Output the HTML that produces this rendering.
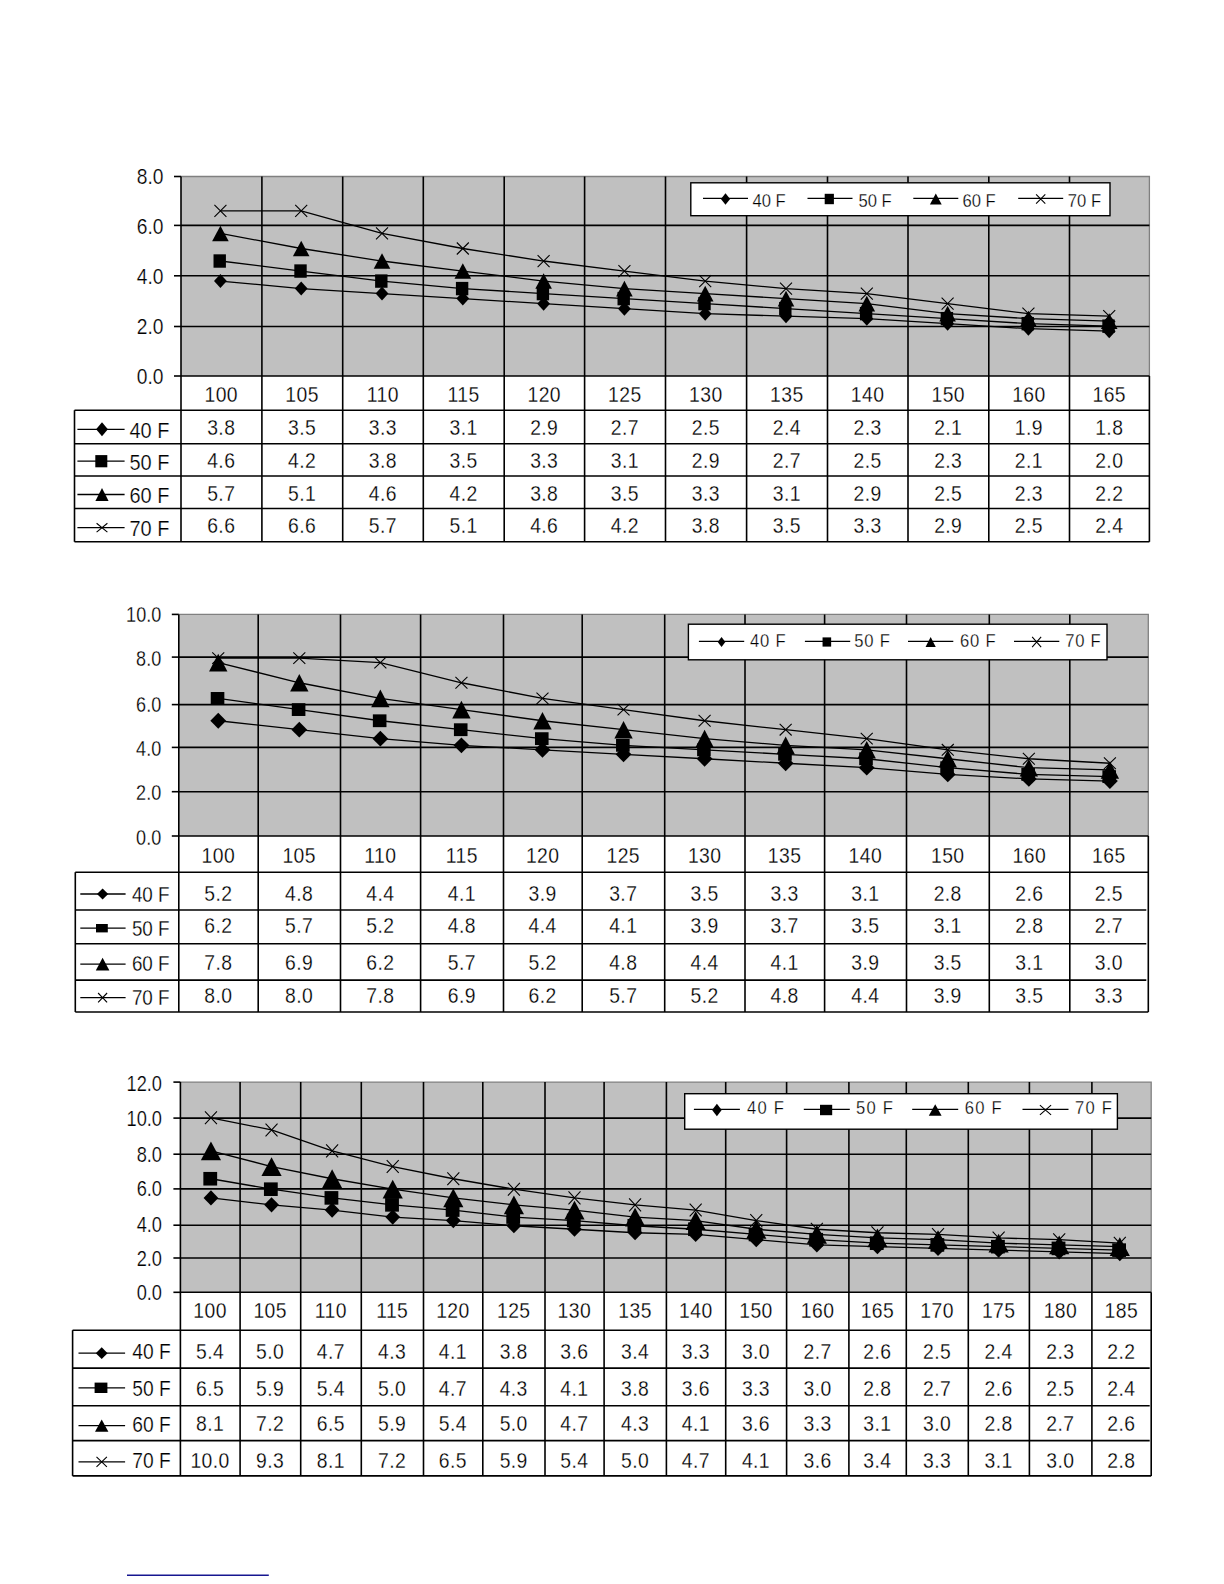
<!DOCTYPE html>
<html><head><meta charset="utf-8"><title>Charts</title>
<style>
html,body{margin:0;padding:0;background:#fff;}
svg{display:block;}
text{font-family:"Liberation Sans", sans-serif;fill:#000;stroke:#fff;stroke-width:0.25px;}
</style></head>
<body>
<svg width="1224" height="1584" viewBox="0 0 1224 1584">
<rect width="1224" height="1584" fill="#fff"/>
<rect x="181" y="176.5" width="968.4" height="199.5" fill="#c0c0c0"/>
<path d="M181 176.5H1149.4V376" stroke="#808080" stroke-width="1.3" fill="none"/>
<path d="M181 326.5H1149.4" stroke="#000" stroke-width="1.6"/>
<path d="M181 275.8H1149.4" stroke="#000" stroke-width="1.6"/>
<path d="M181 225.4H1149.4" stroke="#000" stroke-width="1.6"/>
<path d="M174 376H181" stroke="#000" stroke-width="1.6"/>
<text transform="translate(163.5 384.15) scale(0.9 1)" font-size="21.4" text-anchor="end">0.0</text>
<path d="M174 326.5H181" stroke="#000" stroke-width="1.6"/>
<text transform="translate(163.5 334.34) scale(0.9 1)" font-size="21.4" text-anchor="end">2.0</text>
<path d="M174 275.8H181" stroke="#000" stroke-width="1.6"/>
<text transform="translate(163.5 283.93) scale(0.9 1)" font-size="21.4" text-anchor="end">4.0</text>
<path d="M174 225.4H181" stroke="#000" stroke-width="1.6"/>
<text transform="translate(163.5 233.67) scale(0.9 1)" font-size="21.4" text-anchor="end">6.0</text>
<path d="M174 176.5H181" stroke="#000" stroke-width="1.6"/>
<text transform="translate(163.5 184.16) scale(0.9 1)" font-size="21.4" text-anchor="end">8.0</text>
<path d="M181 376H1149.4" stroke="#000" stroke-width="1.6"/>
<path d="M74.5 410.2H1149.4" stroke="#000" stroke-width="1.6"/>
<path d="M74.5 443.8H1149.4" stroke="#000" stroke-width="1.6"/>
<path d="M74.5 476H1149.4" stroke="#000" stroke-width="1.6"/>
<path d="M74.5 508.5H1149.4" stroke="#000" stroke-width="1.6"/>
<path d="M74.5 541.8H1149.4" stroke="#000" stroke-width="1.6"/>
<path d="M181 176.5V541.8" stroke="#000" stroke-width="1.6"/>
<path d="M261.9 176.5V541.8" stroke="#000" stroke-width="1.6"/>
<path d="M342.7 176.5V541.8" stroke="#000" stroke-width="1.6"/>
<path d="M423.3 176.5V541.8" stroke="#000" stroke-width="1.6"/>
<path d="M504.2 176.5V541.8" stroke="#000" stroke-width="1.6"/>
<path d="M584.6 176.5V541.8" stroke="#000" stroke-width="1.6"/>
<path d="M665.5 176.5V541.8" stroke="#000" stroke-width="1.6"/>
<path d="M746.6 176.5V541.8" stroke="#000" stroke-width="1.6"/>
<path d="M827.5 176.5V541.8" stroke="#000" stroke-width="1.6"/>
<path d="M908 176.5V541.8" stroke="#000" stroke-width="1.6"/>
<path d="M988.8 176.5V541.8" stroke="#000" stroke-width="1.6"/>
<path d="M1069.5 176.5V541.8" stroke="#000" stroke-width="1.6"/>
<path d="M1149.4 376V541.8" stroke="#000" stroke-width="1.6"/>
<path d="M74.5 410.2V541.8" stroke="#000" stroke-width="1.6"/>
<text transform="translate(221.26 401.99) scale(0.86 1)" font-size="22.5" text-anchor="middle" letter-spacing="0.5">100</text>
<text transform="translate(302.11 401.99) scale(0.86 1)" font-size="22.5" text-anchor="middle" letter-spacing="0.5">105</text>
<text transform="translate(382.81 401.99) scale(0.86 1)" font-size="22.5" text-anchor="middle" letter-spacing="0.5">110</text>
<text transform="translate(463.56 401.99) scale(0.86 1)" font-size="22.5" text-anchor="middle" letter-spacing="0.5">115</text>
<text transform="translate(544.22 401.99) scale(0.86 1)" font-size="22.5" text-anchor="middle" letter-spacing="0.5">120</text>
<text transform="translate(624.87 401.99) scale(0.86 1)" font-size="22.5" text-anchor="middle" letter-spacing="0.5">125</text>
<text transform="translate(705.87 401.99) scale(0.86 1)" font-size="22.5" text-anchor="middle" letter-spacing="0.5">130</text>
<text transform="translate(786.87 401.99) scale(0.86 1)" font-size="22.5" text-anchor="middle" letter-spacing="0.5">135</text>
<text transform="translate(867.57 401.99) scale(0.86 1)" font-size="22.5" text-anchor="middle" letter-spacing="0.5">140</text>
<text transform="translate(948.22 401.99) scale(0.86 1)" font-size="22.5" text-anchor="middle" letter-spacing="0.5">150</text>
<text transform="translate(1028.96 401.99) scale(0.86 1)" font-size="22.5" text-anchor="middle" letter-spacing="0.5">160</text>
<text transform="translate(1109.26 401.99) scale(0.86 1)" font-size="22.5" text-anchor="middle" letter-spacing="0.5">165</text>
<text transform="translate(221.26 435.09) scale(0.86 1)" font-size="22.5" text-anchor="middle" letter-spacing="0.5">3.8</text>
<text transform="translate(302.11 435.09) scale(0.86 1)" font-size="22.5" text-anchor="middle" letter-spacing="0.5">3.5</text>
<text transform="translate(382.81 435.09) scale(0.86 1)" font-size="22.5" text-anchor="middle" letter-spacing="0.5">3.3</text>
<text transform="translate(463.56 435.09) scale(0.86 1)" font-size="22.5" text-anchor="middle" letter-spacing="0.5">3.1</text>
<text transform="translate(544.22 435.09) scale(0.86 1)" font-size="22.5" text-anchor="middle" letter-spacing="0.5">2.9</text>
<text transform="translate(624.87 435.09) scale(0.86 1)" font-size="22.5" text-anchor="middle" letter-spacing="0.5">2.7</text>
<text transform="translate(705.87 435.09) scale(0.86 1)" font-size="22.5" text-anchor="middle" letter-spacing="0.5">2.5</text>
<text transform="translate(786.87 435.09) scale(0.86 1)" font-size="22.5" text-anchor="middle" letter-spacing="0.5">2.4</text>
<text transform="translate(867.57 435.09) scale(0.86 1)" font-size="22.5" text-anchor="middle" letter-spacing="0.5">2.3</text>
<text transform="translate(948.22 435.09) scale(0.86 1)" font-size="22.5" text-anchor="middle" letter-spacing="0.5">2.1</text>
<text transform="translate(1028.96 435.09) scale(0.86 1)" font-size="22.5" text-anchor="middle" letter-spacing="0.5">1.9</text>
<text transform="translate(1109.26 435.09) scale(0.86 1)" font-size="22.5" text-anchor="middle" letter-spacing="0.5">1.8</text>
<path d="M77.4 429.3H124.6" stroke="#000" stroke-width="1.3"/>
<path d="M102 422.3L107.9 429.3L102 436.3L96.1 429.3Z" fill="#000"/>
<text transform="translate(129.5 437.63) scale(0.93 1)" font-size="21.5" text-anchor="start">40 F</text>
<text transform="translate(221.26 468.39) scale(0.86 1)" font-size="22.5" text-anchor="middle" letter-spacing="0.5">4.6</text>
<text transform="translate(302.11 468.39) scale(0.86 1)" font-size="22.5" text-anchor="middle" letter-spacing="0.5">4.2</text>
<text transform="translate(382.81 468.39) scale(0.86 1)" font-size="22.5" text-anchor="middle" letter-spacing="0.5">3.8</text>
<text transform="translate(463.56 468.39) scale(0.86 1)" font-size="22.5" text-anchor="middle" letter-spacing="0.5">3.5</text>
<text transform="translate(544.22 468.39) scale(0.86 1)" font-size="22.5" text-anchor="middle" letter-spacing="0.5">3.3</text>
<text transform="translate(624.87 468.39) scale(0.86 1)" font-size="22.5" text-anchor="middle" letter-spacing="0.5">3.1</text>
<text transform="translate(705.87 468.39) scale(0.86 1)" font-size="22.5" text-anchor="middle" letter-spacing="0.5">2.9</text>
<text transform="translate(786.87 468.39) scale(0.86 1)" font-size="22.5" text-anchor="middle" letter-spacing="0.5">2.7</text>
<text transform="translate(867.57 468.39) scale(0.86 1)" font-size="22.5" text-anchor="middle" letter-spacing="0.5">2.5</text>
<text transform="translate(948.22 468.39) scale(0.86 1)" font-size="22.5" text-anchor="middle" letter-spacing="0.5">2.3</text>
<text transform="translate(1028.96 468.39) scale(0.86 1)" font-size="22.5" text-anchor="middle" letter-spacing="0.5">2.1</text>
<text transform="translate(1109.26 468.39) scale(0.86 1)" font-size="22.5" text-anchor="middle" letter-spacing="0.5">2.0</text>
<path d="M77.4 461.2H124.6" stroke="#000" stroke-width="1.3"/>
<rect x="95.3" y="455.1" width="12" height="12.2" fill="#000"/>
<text transform="translate(129.5 469.53) scale(0.93 1)" font-size="21.5" text-anchor="start">50 F</text>
<text transform="translate(221.26 500.99) scale(0.86 1)" font-size="22.5" text-anchor="middle" letter-spacing="0.5">5.7</text>
<text transform="translate(302.11 500.99) scale(0.86 1)" font-size="22.5" text-anchor="middle" letter-spacing="0.5">5.1</text>
<text transform="translate(382.81 500.99) scale(0.86 1)" font-size="22.5" text-anchor="middle" letter-spacing="0.5">4.6</text>
<text transform="translate(463.56 500.99) scale(0.86 1)" font-size="22.5" text-anchor="middle" letter-spacing="0.5">4.2</text>
<text transform="translate(544.22 500.99) scale(0.86 1)" font-size="22.5" text-anchor="middle" letter-spacing="0.5">3.8</text>
<text transform="translate(624.87 500.99) scale(0.86 1)" font-size="22.5" text-anchor="middle" letter-spacing="0.5">3.5</text>
<text transform="translate(705.87 500.99) scale(0.86 1)" font-size="22.5" text-anchor="middle" letter-spacing="0.5">3.3</text>
<text transform="translate(786.87 500.99) scale(0.86 1)" font-size="22.5" text-anchor="middle" letter-spacing="0.5">3.1</text>
<text transform="translate(867.57 500.99) scale(0.86 1)" font-size="22.5" text-anchor="middle" letter-spacing="0.5">2.9</text>
<text transform="translate(948.22 500.99) scale(0.86 1)" font-size="22.5" text-anchor="middle" letter-spacing="0.5">2.5</text>
<text transform="translate(1028.96 500.99) scale(0.86 1)" font-size="22.5" text-anchor="middle" letter-spacing="0.5">2.3</text>
<text transform="translate(1109.26 500.99) scale(0.86 1)" font-size="22.5" text-anchor="middle" letter-spacing="0.5">2.2</text>
<path d="M77.4 494.5H124.6" stroke="#000" stroke-width="1.3"/>
<path d="M102 488.1L108.6 500.9L95.4 500.9Z" fill="#000"/>
<text transform="translate(129.5 502.73) scale(0.93 1)" font-size="21.5" text-anchor="start">60 F</text>
<text transform="translate(221.26 533.19) scale(0.86 1)" font-size="22.5" text-anchor="middle" letter-spacing="0.5">6.6</text>
<text transform="translate(302.11 533.19) scale(0.86 1)" font-size="22.5" text-anchor="middle" letter-spacing="0.5">6.6</text>
<text transform="translate(382.81 533.19) scale(0.86 1)" font-size="22.5" text-anchor="middle" letter-spacing="0.5">5.7</text>
<text transform="translate(463.56 533.19) scale(0.86 1)" font-size="22.5" text-anchor="middle" letter-spacing="0.5">5.1</text>
<text transform="translate(544.22 533.19) scale(0.86 1)" font-size="22.5" text-anchor="middle" letter-spacing="0.5">4.6</text>
<text transform="translate(624.87 533.19) scale(0.86 1)" font-size="22.5" text-anchor="middle" letter-spacing="0.5">4.2</text>
<text transform="translate(705.87 533.19) scale(0.86 1)" font-size="22.5" text-anchor="middle" letter-spacing="0.5">3.8</text>
<text transform="translate(786.87 533.19) scale(0.86 1)" font-size="22.5" text-anchor="middle" letter-spacing="0.5">3.5</text>
<text transform="translate(867.57 533.19) scale(0.86 1)" font-size="22.5" text-anchor="middle" letter-spacing="0.5">3.3</text>
<text transform="translate(948.22 533.19) scale(0.86 1)" font-size="22.5" text-anchor="middle" letter-spacing="0.5">2.9</text>
<text transform="translate(1028.96 533.19) scale(0.86 1)" font-size="22.5" text-anchor="middle" letter-spacing="0.5">2.5</text>
<text transform="translate(1109.26 533.19) scale(0.86 1)" font-size="22.5" text-anchor="middle" letter-spacing="0.5">2.4</text>
<path d="M77.4 527.7H124.6" stroke="#000" stroke-width="1.3"/>
<path d="M96.6 523.3L107.4 532.1M107.4 523.3L96.6 532.1" stroke="#000" stroke-width="1.1" fill="none"/>
<text transform="translate(129.5 535.83) scale(0.93 1)" font-size="21.5" text-anchor="start">70 F</text>
<polyline points="220.41,281.07 301.21,288.59 382.01,293.6 462.81,298.61 543.61,303.63 624.41,308.64 705.21,313.65 786.01,316.16 866.81,318.66 947.61,323.67 1028.41,328.69 1109.21,331.19" stroke="#000" stroke-width="1.3" fill="none"/>
<polyline points="220.41,261.02 301.21,271.05 382.01,281.07 462.81,288.59 543.61,293.6 624.41,298.61 705.21,303.63 786.01,308.64 866.81,313.65 947.61,318.66 1028.41,323.67 1109.21,326.18" stroke="#000" stroke-width="1.3" fill="none"/>
<polyline points="220.41,233.46 301.21,248.49 382.01,261.02 462.81,271.05 543.61,281.07 624.41,288.59 705.21,293.6 786.01,298.61 866.81,303.63 947.61,313.65 1028.41,318.66 1109.21,321.17" stroke="#000" stroke-width="1.3" fill="none"/>
<polyline points="220.41,210.9 301.21,210.9 382.01,233.46 462.81,248.49 543.61,261.02 624.41,271.05 705.21,281.07 786.01,288.59 866.81,293.6 947.61,303.63 1028.41,313.65 1109.21,316.16" stroke="#000" stroke-width="1.3" fill="none"/>
<path d="M220.41 274.07L226.81 281.07L220.41 288.07L214.01 281.07Z" fill="#000"/>
<path d="M301.21 281.59L307.61 288.59L301.21 295.59L294.81 288.59Z" fill="#000"/>
<path d="M382.01 286.6L388.41 293.6L382.01 300.6L375.61 293.6Z" fill="#000"/>
<path d="M462.81 291.61L469.21 298.61L462.81 305.61L456.41 298.61Z" fill="#000"/>
<path d="M543.61 296.63L550.01 303.63L543.61 310.63L537.21 303.63Z" fill="#000"/>
<path d="M624.41 301.64L630.81 308.64L624.41 315.64L618.01 308.64Z" fill="#000"/>
<path d="M705.21 306.65L711.61 313.65L705.21 320.65L698.81 313.65Z" fill="#000"/>
<path d="M786.01 309.16L792.41 316.16L786.01 323.16L779.61 316.16Z" fill="#000"/>
<path d="M866.81 311.66L873.21 318.66L866.81 325.66L860.41 318.66Z" fill="#000"/>
<path d="M947.61 316.67L954.01 323.67L947.61 330.67L941.21 323.67Z" fill="#000"/>
<path d="M1028.41 321.69L1034.81 328.69L1028.41 335.69L1022.01 328.69Z" fill="#000"/>
<path d="M1109.21 324.19L1115.61 331.19L1109.21 338.19L1102.81 331.19Z" fill="#000"/>
<rect x="213.51" y="254.32" width="12.4" height="13.4" fill="#000"/>
<rect x="294.31" y="264.35" width="12.4" height="13.4" fill="#000"/>
<rect x="375.11" y="274.37" width="12.4" height="13.4" fill="#000"/>
<rect x="455.91" y="281.89" width="12.4" height="13.4" fill="#000"/>
<rect x="536.71" y="286.9" width="12.4" height="13.4" fill="#000"/>
<rect x="617.51" y="291.91" width="12.4" height="13.4" fill="#000"/>
<rect x="698.31" y="296.93" width="12.4" height="13.4" fill="#000"/>
<rect x="779.11" y="301.94" width="12.4" height="13.4" fill="#000"/>
<rect x="859.91" y="306.95" width="12.4" height="13.4" fill="#000"/>
<rect x="940.71" y="311.96" width="12.4" height="13.4" fill="#000"/>
<rect x="1021.51" y="316.97" width="12.4" height="13.4" fill="#000"/>
<rect x="1102.31" y="319.48" width="12.4" height="13.4" fill="#000"/>
<path d="M220.41 225.66L228.71 241.26L212.11 241.26Z" fill="#000"/>
<path d="M301.21 240.69L309.51 256.29L292.91 256.29Z" fill="#000"/>
<path d="M382.01 253.22L390.31 268.82L373.71 268.82Z" fill="#000"/>
<path d="M462.81 263.25L471.11 278.85L454.51 278.85Z" fill="#000"/>
<path d="M543.61 273.27L551.91 288.87L535.31 288.87Z" fill="#000"/>
<path d="M624.41 280.79L632.71 296.39L616.11 296.39Z" fill="#000"/>
<path d="M705.21 285.8L713.51 301.4L696.91 301.4Z" fill="#000"/>
<path d="M786.01 290.81L794.31 306.41L777.71 306.41Z" fill="#000"/>
<path d="M866.81 295.83L875.11 311.43L858.51 311.43Z" fill="#000"/>
<path d="M947.61 305.85L955.91 321.45L939.31 321.45Z" fill="#000"/>
<path d="M1028.41 310.86L1036.71 326.46L1020.11 326.46Z" fill="#000"/>
<path d="M1109.21 313.37L1117.51 328.97L1100.91 328.97Z" fill="#000"/>
<path d="M214.41 204.9L226.41 216.9M226.41 204.9L214.41 216.9" stroke="#000" stroke-width="1.1" fill="none"/>
<path d="M295.21 204.9L307.21 216.9M307.21 204.9L295.21 216.9" stroke="#000" stroke-width="1.1" fill="none"/>
<path d="M376.01 227.46L388.01 239.46M388.01 227.46L376.01 239.46" stroke="#000" stroke-width="1.1" fill="none"/>
<path d="M456.81 242.49L468.81 254.49M468.81 242.49L456.81 254.49" stroke="#000" stroke-width="1.1" fill="none"/>
<path d="M537.61 255.02L549.61 267.02M549.61 255.02L537.61 267.02" stroke="#000" stroke-width="1.1" fill="none"/>
<path d="M618.41 265.05L630.41 277.05M630.41 265.05L618.41 277.05" stroke="#000" stroke-width="1.1" fill="none"/>
<path d="M699.21 275.07L711.21 287.07M711.21 275.07L699.21 287.07" stroke="#000" stroke-width="1.1" fill="none"/>
<path d="M780.01 282.59L792.01 294.59M792.01 282.59L780.01 294.59" stroke="#000" stroke-width="1.1" fill="none"/>
<path d="M860.81 287.6L872.81 299.6M872.81 287.6L860.81 299.6" stroke="#000" stroke-width="1.1" fill="none"/>
<path d="M941.61 297.63L953.61 309.63M953.61 297.63L941.61 309.63" stroke="#000" stroke-width="1.1" fill="none"/>
<path d="M1022.41 307.65L1034.41 319.65M1034.41 307.65L1022.41 319.65" stroke="#000" stroke-width="1.1" fill="none"/>
<path d="M1103.21 310.16L1115.21 322.16M1115.21 310.16L1103.21 322.16" stroke="#000" stroke-width="1.1" fill="none"/>
<rect x="690.8" y="182.8" width="419.2" height="32.9" fill="#fff" stroke="#000" stroke-width="1.4"/>
<path d="M703 198.4H748" stroke="#000" stroke-width="1.3"/>
<path d="M725.5 193.2L730.1 199L725.5 204.8L720.9 199Z" fill="#000"/>
<text transform="translate(752.5 206.93) scale(0.95 1)" font-size="17.5" text-anchor="start">40 F</text>
<path d="M807.5 198.4H852.5" stroke="#000" stroke-width="1.3"/>
<rect x="824.7" y="193.8" width="9.2" height="10.4" fill="#000"/>
<text transform="translate(858.4 206.93) scale(0.95 1)" font-size="17.5" text-anchor="start">50 F</text>
<path d="M913.3 198.4H958.3" stroke="#000" stroke-width="1.3"/>
<path d="M935.8 193.4L941.7 204.6L929.9 204.6Z" fill="#000"/>
<text transform="translate(962.4 206.93) scale(0.95 1)" font-size="17.5" text-anchor="start">60 F</text>
<path d="M1018.2 198.4H1063.2" stroke="#000" stroke-width="1.3"/>
<path d="M1036.1 194.3L1045.3 203.7M1045.3 194.3L1036.1 203.7" stroke="#000" stroke-width="1.1" fill="none"/>
<text transform="translate(1067.8 206.93) scale(0.95 1)" font-size="17.5" text-anchor="start">70 F</text>
<rect x="178.8" y="614.4" width="969.5" height="221.6" fill="#c0c0c0"/>
<path d="M178.8 614.4H1148.3V836" stroke="#808080" stroke-width="1.3" fill="none"/>
<path d="M178.8 791.7H1148.3" stroke="#000" stroke-width="1.6"/>
<path d="M178.8 747.4H1148.3" stroke="#000" stroke-width="1.6"/>
<path d="M178.8 704.6H1148.3" stroke="#000" stroke-width="1.6"/>
<path d="M178.8 657.1H1148.3" stroke="#000" stroke-width="1.6"/>
<path d="M171.8 836H178.8" stroke="#000" stroke-width="1.6"/>
<text transform="translate(161.2 844.71) scale(0.82 1)" font-size="22.0" text-anchor="end">0.0</text>
<path d="M171.8 791.7H178.8" stroke="#000" stroke-width="1.6"/>
<text transform="translate(161.2 800.21) scale(0.82 1)" font-size="22.0" text-anchor="end">2.0</text>
<path d="M171.8 747.4H178.8" stroke="#000" stroke-width="1.6"/>
<text transform="translate(161.2 755.7) scale(0.82 1)" font-size="22.0" text-anchor="end">4.0</text>
<path d="M171.8 704.6H178.8" stroke="#000" stroke-width="1.6"/>
<text transform="translate(161.2 711.95) scale(0.82 1)" font-size="22.0" text-anchor="end">6.0</text>
<path d="M171.8 657.1H178.8" stroke="#000" stroke-width="1.6"/>
<text transform="translate(161.2 665.84) scale(0.82 1)" font-size="22.0" text-anchor="end">8.0</text>
<path d="M171.8 614.4H178.8" stroke="#000" stroke-width="1.6"/>
<text transform="translate(161.2 622.14) scale(0.82 1)" font-size="22.0" text-anchor="end">10.0</text>
<path d="M178.8 836H1148.3" stroke="#000" stroke-width="1.6"/>
<path d="M75.3 872.2H1148.3" stroke="#000" stroke-width="1.6"/>
<path d="M75.3 910H1146.3" stroke="#000" stroke-width="1.6"/>
<path d="M75.3 943.8H1146.3" stroke="#000" stroke-width="1.6"/>
<path d="M75.3 980.1H1146.3" stroke="#000" stroke-width="1.6"/>
<path d="M75.3 1012H1148.3" stroke="#000" stroke-width="1.6"/>
<path d="M178.8 614.4V1012" stroke="#000" stroke-width="1.6"/>
<path d="M258.2 614.4V1012" stroke="#000" stroke-width="1.6"/>
<path d="M340.5 614.4V1012" stroke="#000" stroke-width="1.6"/>
<path d="M420.6 614.4V1012" stroke="#000" stroke-width="1.6"/>
<path d="M503.5 614.4V1012" stroke="#000" stroke-width="1.6"/>
<path d="M582.2 614.4V1012" stroke="#000" stroke-width="1.6"/>
<path d="M664.7 614.4V1012" stroke="#000" stroke-width="1.6"/>
<path d="M745 614.4V1012" stroke="#000" stroke-width="1.6"/>
<path d="M824.6 614.4V1012" stroke="#000" stroke-width="1.6"/>
<path d="M906.5 614.4V1012" stroke="#000" stroke-width="1.6"/>
<path d="M989.3 614.4V1012" stroke="#000" stroke-width="1.6"/>
<path d="M1069.8 614.4V1012" stroke="#000" stroke-width="1.6"/>
<path d="M1148.3 836V1012" stroke="#000" stroke-width="1.6"/>
<path d="M75.3 872.2V1012" stroke="#000" stroke-width="1.6"/>
<text transform="translate(218.31 862.79) scale(0.86 1)" font-size="22.5" text-anchor="middle" letter-spacing="0.5">100</text>
<text transform="translate(299.17 862.79) scale(0.86 1)" font-size="22.5" text-anchor="middle" letter-spacing="0.5">105</text>
<text transform="translate(380.37 862.79) scale(0.86 1)" font-size="22.5" text-anchor="middle" letter-spacing="0.5">110</text>
<text transform="translate(461.87 862.79) scale(0.86 1)" font-size="22.5" text-anchor="middle" letter-spacing="0.5">115</text>
<text transform="translate(542.67 862.79) scale(0.86 1)" font-size="22.5" text-anchor="middle" letter-spacing="0.5">120</text>
<text transform="translate(623.27 862.79) scale(0.86 1)" font-size="22.5" text-anchor="middle" letter-spacing="0.5">125</text>
<text transform="translate(704.67 862.79) scale(0.86 1)" font-size="22.5" text-anchor="middle" letter-spacing="0.5">130</text>
<text transform="translate(784.62 862.79) scale(0.86 1)" font-size="22.5" text-anchor="middle" letter-spacing="0.5">135</text>
<text transform="translate(865.37 862.79) scale(0.86 1)" font-size="22.5" text-anchor="middle" letter-spacing="0.5">140</text>
<text transform="translate(947.72 862.79) scale(0.86 1)" font-size="22.5" text-anchor="middle" letter-spacing="0.5">150</text>
<text transform="translate(1029.36 862.79) scale(0.86 1)" font-size="22.5" text-anchor="middle" letter-spacing="0.5">160</text>
<text transform="translate(1108.86 862.79) scale(0.86 1)" font-size="22.5" text-anchor="middle" letter-spacing="0.5">165</text>
<text transform="translate(218.31 900.59) scale(0.86 1)" font-size="22.5" text-anchor="middle" letter-spacing="0.5">5.2</text>
<text transform="translate(299.17 900.59) scale(0.86 1)" font-size="22.5" text-anchor="middle" letter-spacing="0.5">4.8</text>
<text transform="translate(380.37 900.59) scale(0.86 1)" font-size="22.5" text-anchor="middle" letter-spacing="0.5">4.4</text>
<text transform="translate(461.87 900.59) scale(0.86 1)" font-size="22.5" text-anchor="middle" letter-spacing="0.5">4.1</text>
<text transform="translate(542.67 900.59) scale(0.86 1)" font-size="22.5" text-anchor="middle" letter-spacing="0.5">3.9</text>
<text transform="translate(623.27 900.59) scale(0.86 1)" font-size="22.5" text-anchor="middle" letter-spacing="0.5">3.7</text>
<text transform="translate(704.67 900.59) scale(0.86 1)" font-size="22.5" text-anchor="middle" letter-spacing="0.5">3.5</text>
<text transform="translate(784.62 900.59) scale(0.86 1)" font-size="22.5" text-anchor="middle" letter-spacing="0.5">3.3</text>
<text transform="translate(865.37 900.59) scale(0.86 1)" font-size="22.5" text-anchor="middle" letter-spacing="0.5">3.1</text>
<text transform="translate(947.72 900.59) scale(0.86 1)" font-size="22.5" text-anchor="middle" letter-spacing="0.5">2.8</text>
<text transform="translate(1029.36 900.59) scale(0.86 1)" font-size="22.5" text-anchor="middle" letter-spacing="0.5">2.6</text>
<text transform="translate(1108.86 900.59) scale(0.86 1)" font-size="22.5" text-anchor="middle" letter-spacing="0.5">2.5</text>
<path d="M80.3 894H125.6" stroke="#000" stroke-width="1.3"/>
<path d="M102.6 888.4L108.2 894L102.6 899.6L97 894Z" fill="#000"/>
<text transform="translate(131.9 901.63) scale(0.875 1)" font-size="21.5" text-anchor="start">40 F</text>
<text transform="translate(218.31 933.49) scale(0.86 1)" font-size="22.5" text-anchor="middle" letter-spacing="0.5">6.2</text>
<text transform="translate(299.17 933.49) scale(0.86 1)" font-size="22.5" text-anchor="middle" letter-spacing="0.5">5.7</text>
<text transform="translate(380.37 933.49) scale(0.86 1)" font-size="22.5" text-anchor="middle" letter-spacing="0.5">5.2</text>
<text transform="translate(461.87 933.49) scale(0.86 1)" font-size="22.5" text-anchor="middle" letter-spacing="0.5">4.8</text>
<text transform="translate(542.67 933.49) scale(0.86 1)" font-size="22.5" text-anchor="middle" letter-spacing="0.5">4.4</text>
<text transform="translate(623.27 933.49) scale(0.86 1)" font-size="22.5" text-anchor="middle" letter-spacing="0.5">4.1</text>
<text transform="translate(704.67 933.49) scale(0.86 1)" font-size="22.5" text-anchor="middle" letter-spacing="0.5">3.9</text>
<text transform="translate(784.62 933.49) scale(0.86 1)" font-size="22.5" text-anchor="middle" letter-spacing="0.5">3.7</text>
<text transform="translate(865.37 933.49) scale(0.86 1)" font-size="22.5" text-anchor="middle" letter-spacing="0.5">3.5</text>
<text transform="translate(947.72 933.49) scale(0.86 1)" font-size="22.5" text-anchor="middle" letter-spacing="0.5">3.1</text>
<text transform="translate(1029.36 933.49) scale(0.86 1)" font-size="22.5" text-anchor="middle" letter-spacing="0.5">2.8</text>
<text transform="translate(1108.86 933.49) scale(0.86 1)" font-size="22.5" text-anchor="middle" letter-spacing="0.5">2.7</text>
<path d="M80.3 928.2H125.6" stroke="#000" stroke-width="1.3"/>
<rect x="96" y="924" width="11.8" height="8.4" fill="#000"/>
<text transform="translate(131.9 936.33) scale(0.875 1)" font-size="21.5" text-anchor="start">50 F</text>
<text transform="translate(218.31 969.59) scale(0.86 1)" font-size="22.5" text-anchor="middle" letter-spacing="0.5">7.8</text>
<text transform="translate(299.17 969.59) scale(0.86 1)" font-size="22.5" text-anchor="middle" letter-spacing="0.5">6.9</text>
<text transform="translate(380.37 969.59) scale(0.86 1)" font-size="22.5" text-anchor="middle" letter-spacing="0.5">6.2</text>
<text transform="translate(461.87 969.59) scale(0.86 1)" font-size="22.5" text-anchor="middle" letter-spacing="0.5">5.7</text>
<text transform="translate(542.67 969.59) scale(0.86 1)" font-size="22.5" text-anchor="middle" letter-spacing="0.5">5.2</text>
<text transform="translate(623.27 969.59) scale(0.86 1)" font-size="22.5" text-anchor="middle" letter-spacing="0.5">4.8</text>
<text transform="translate(704.67 969.59) scale(0.86 1)" font-size="22.5" text-anchor="middle" letter-spacing="0.5">4.4</text>
<text transform="translate(784.62 969.59) scale(0.86 1)" font-size="22.5" text-anchor="middle" letter-spacing="0.5">4.1</text>
<text transform="translate(865.37 969.59) scale(0.86 1)" font-size="22.5" text-anchor="middle" letter-spacing="0.5">3.9</text>
<text transform="translate(947.72 969.59) scale(0.86 1)" font-size="22.5" text-anchor="middle" letter-spacing="0.5">3.5</text>
<text transform="translate(1029.36 969.59) scale(0.86 1)" font-size="22.5" text-anchor="middle" letter-spacing="0.5">3.1</text>
<text transform="translate(1108.86 969.59) scale(0.86 1)" font-size="22.5" text-anchor="middle" letter-spacing="0.5">3.0</text>
<path d="M80.3 964.1H125.6" stroke="#000" stroke-width="1.3"/>
<path d="M102.6 957.7L109.4 970.5L95.8 970.5Z" fill="#000"/>
<text transform="translate(131.9 970.63) scale(0.875 1)" font-size="21.5" text-anchor="start">60 F</text>
<text transform="translate(218.31 1002.99) scale(0.86 1)" font-size="22.5" text-anchor="middle" letter-spacing="0.5">8.0</text>
<text transform="translate(299.17 1002.99) scale(0.86 1)" font-size="22.5" text-anchor="middle" letter-spacing="0.5">8.0</text>
<text transform="translate(380.37 1002.99) scale(0.86 1)" font-size="22.5" text-anchor="middle" letter-spacing="0.5">7.8</text>
<text transform="translate(461.87 1002.99) scale(0.86 1)" font-size="22.5" text-anchor="middle" letter-spacing="0.5">6.9</text>
<text transform="translate(542.67 1002.99) scale(0.86 1)" font-size="22.5" text-anchor="middle" letter-spacing="0.5">6.2</text>
<text transform="translate(623.27 1002.99) scale(0.86 1)" font-size="22.5" text-anchor="middle" letter-spacing="0.5">5.7</text>
<text transform="translate(704.67 1002.99) scale(0.86 1)" font-size="22.5" text-anchor="middle" letter-spacing="0.5">5.2</text>
<text transform="translate(784.62 1002.99) scale(0.86 1)" font-size="22.5" text-anchor="middle" letter-spacing="0.5">4.8</text>
<text transform="translate(865.37 1002.99) scale(0.86 1)" font-size="22.5" text-anchor="middle" letter-spacing="0.5">4.4</text>
<text transform="translate(947.72 1002.99) scale(0.86 1)" font-size="22.5" text-anchor="middle" letter-spacing="0.5">3.9</text>
<text transform="translate(1029.36 1002.99) scale(0.86 1)" font-size="22.5" text-anchor="middle" letter-spacing="0.5">3.5</text>
<text transform="translate(1108.86 1002.99) scale(0.86 1)" font-size="22.5" text-anchor="middle" letter-spacing="0.5">3.3</text>
<path d="M80.3 997.7H125.6" stroke="#000" stroke-width="1.3"/>
<path d="M98.1 993L107.1 1002.4M107.1 993L98.1 1002.4" stroke="#000" stroke-width="1.1" fill="none"/>
<text transform="translate(131.9 1005.13) scale(0.875 1)" font-size="21.5" text-anchor="start">70 F</text>
<polyline points="218.24,720.76 299.3,729.7 380.36,738.64 461.42,745.35 542.48,749.82 623.54,754.29 704.6,758.76 785.66,763.23 866.72,767.7 947.78,774.41 1028.84,778.88 1109.9,781.12" stroke="#000" stroke-width="1.3" fill="none"/>
<polyline points="218.24,698.41 299.3,709.58 380.36,720.76 461.42,729.7 542.48,738.64 623.54,745.35 704.6,749.82 785.66,754.29 866.72,758.76 947.78,767.7 1028.84,774.41 1109.9,776.64" stroke="#000" stroke-width="1.3" fill="none"/>
<polyline points="218.24,662.64 299.3,682.76 380.36,698.41 461.42,709.58 542.48,720.76 623.54,729.7 704.6,738.64 785.66,745.35 866.72,749.82 947.78,758.76 1028.84,767.7 1109.9,769.94" stroke="#000" stroke-width="1.3" fill="none"/>
<polyline points="218.24,658.17 299.3,658.17 380.36,662.64 461.42,682.76 542.48,698.41 623.54,709.58 704.6,720.76 785.66,729.7 866.72,738.64 947.78,749.82 1028.84,758.76 1109.9,763.23" stroke="#000" stroke-width="1.3" fill="none"/>
<path d="M218.24 712.86L226.14 720.76L218.24 728.66L210.34 720.76Z" fill="#000"/>
<path d="M299.3 721.8L307.2 729.7L299.3 737.6L291.4 729.7Z" fill="#000"/>
<path d="M380.36 730.74L388.26 738.64L380.36 746.54L372.46 738.64Z" fill="#000"/>
<path d="M461.42 737.45L469.32 745.35L461.42 753.25L453.52 745.35Z" fill="#000"/>
<path d="M542.48 741.92L550.38 749.82L542.48 757.72L534.58 749.82Z" fill="#000"/>
<path d="M623.54 746.39L631.44 754.29L623.54 762.19L615.64 754.29Z" fill="#000"/>
<path d="M704.6 750.86L712.5 758.76L704.6 766.66L696.7 758.76Z" fill="#000"/>
<path d="M785.66 755.33L793.56 763.23L785.66 771.13L777.76 763.23Z" fill="#000"/>
<path d="M866.72 759.8L874.62 767.7L866.72 775.6L858.82 767.7Z" fill="#000"/>
<path d="M947.78 766.51L955.68 774.41L947.78 782.31L939.88 774.41Z" fill="#000"/>
<path d="M1028.84 770.98L1036.74 778.88L1028.84 786.78L1020.94 778.88Z" fill="#000"/>
<path d="M1109.9 773.22L1117.8 781.12L1109.9 789.01L1102 781.12Z" fill="#000"/>
<rect x="210.74" y="692.01" width="13.6" height="12.8" fill="#000"/>
<rect x="291.8" y="703.18" width="13.6" height="12.8" fill="#000"/>
<rect x="372.86" y="714.36" width="13.6" height="12.8" fill="#000"/>
<rect x="453.92" y="723.3" width="13.6" height="12.8" fill="#000"/>
<rect x="534.98" y="732.24" width="13.6" height="12.8" fill="#000"/>
<rect x="616.04" y="738.95" width="13.6" height="12.8" fill="#000"/>
<rect x="697.1" y="743.42" width="13.6" height="12.8" fill="#000"/>
<rect x="778.16" y="747.89" width="13.6" height="12.8" fill="#000"/>
<rect x="859.22" y="752.36" width="13.6" height="12.8" fill="#000"/>
<rect x="940.28" y="761.3" width="13.6" height="12.8" fill="#000"/>
<rect x="1021.34" y="768.01" width="13.6" height="12.8" fill="#000"/>
<rect x="1102.4" y="770.24" width="13.6" height="12.8" fill="#000"/>
<path d="M218.24 653.84L227.44 671.44L209.04 671.44Z" fill="#000"/>
<path d="M299.3 673.96L308.5 691.56L290.1 691.56Z" fill="#000"/>
<path d="M380.36 689.61L389.56 707.21L371.16 707.21Z" fill="#000"/>
<path d="M461.42 700.78L470.62 718.38L452.22 718.38Z" fill="#000"/>
<path d="M542.48 711.96L551.68 729.56L533.28 729.56Z" fill="#000"/>
<path d="M623.54 720.9L632.74 738.5L614.34 738.5Z" fill="#000"/>
<path d="M704.6 729.84L713.8 747.44L695.4 747.44Z" fill="#000"/>
<path d="M785.66 736.55L794.86 754.15L776.46 754.15Z" fill="#000"/>
<path d="M866.72 741.02L875.92 758.62L857.52 758.62Z" fill="#000"/>
<path d="M947.78 749.96L956.98 767.56L938.58 767.56Z" fill="#000"/>
<path d="M1028.84 758.9L1038.04 776.5L1019.64 776.5Z" fill="#000"/>
<path d="M1109.9 761.14L1119.1 778.74L1100.7 778.74Z" fill="#000"/>
<path d="M212.24 652.37L224.24 663.97M224.24 652.37L212.24 663.97" stroke="#000" stroke-width="1.1" fill="none"/>
<path d="M293.3 652.37L305.3 663.97M305.3 652.37L293.3 663.97" stroke="#000" stroke-width="1.1" fill="none"/>
<path d="M374.36 656.84L386.36 668.44M386.36 656.84L374.36 668.44" stroke="#000" stroke-width="1.1" fill="none"/>
<path d="M455.42 676.96L467.42 688.56M467.42 676.96L455.42 688.56" stroke="#000" stroke-width="1.1" fill="none"/>
<path d="M536.48 692.61L548.48 704.21M548.48 692.61L536.48 704.21" stroke="#000" stroke-width="1.1" fill="none"/>
<path d="M617.54 703.78L629.54 715.38M629.54 703.78L617.54 715.38" stroke="#000" stroke-width="1.1" fill="none"/>
<path d="M698.6 714.96L710.6 726.56M710.6 714.96L698.6 726.56" stroke="#000" stroke-width="1.1" fill="none"/>
<path d="M779.66 723.9L791.66 735.5M791.66 723.9L779.66 735.5" stroke="#000" stroke-width="1.1" fill="none"/>
<path d="M860.72 732.84L872.72 744.44M872.72 732.84L860.72 744.44" stroke="#000" stroke-width="1.1" fill="none"/>
<path d="M941.78 744.02L953.78 755.62M953.78 744.02L941.78 755.62" stroke="#000" stroke-width="1.1" fill="none"/>
<path d="M1022.84 752.96L1034.84 764.56M1034.84 752.96L1022.84 764.56" stroke="#000" stroke-width="1.1" fill="none"/>
<path d="M1103.9 757.43L1115.9 769.03M1115.9 757.43L1103.9 769.03" stroke="#000" stroke-width="1.1" fill="none"/>
<rect x="688.4" y="624.2" width="418.6" height="35.6" fill="#fff" stroke="#000" stroke-width="1.4"/>
<path d="M698.9 641.4H744.2" stroke="#000" stroke-width="1.3"/>
<path d="M721.55 636.9L725.35 642L721.55 647.1L717.75 642Z" fill="#000"/>
<text transform="translate(750.1 647.12) scale(0.95 1)" font-size="17.5" text-anchor="start" letter-spacing="0.8">40 F</text>
<path d="M804.9 641.4H850.2" stroke="#000" stroke-width="1.3"/>
<rect x="822.55" y="637.4" width="8.6" height="9.2" fill="#000"/>
<text transform="translate(854.3 647.12) scale(0.95 1)" font-size="17.5" text-anchor="start" letter-spacing="0.8">50 F</text>
<path d="M908 641.4H953.3" stroke="#000" stroke-width="1.3"/>
<path d="M930.65 636.9L935.75 647.1L925.55 647.1Z" fill="#000"/>
<text transform="translate(960.1 647.12) scale(0.95 1)" font-size="17.5" text-anchor="start" letter-spacing="0.8">60 F</text>
<path d="M1014 641.4H1059.3" stroke="#000" stroke-width="1.3"/>
<path d="M1032.15 636.9L1041.15 647.1M1041.15 636.9L1032.15 647.1" stroke="#000" stroke-width="1.1" fill="none"/>
<text transform="translate(1065.2 647.12) scale(0.95 1)" font-size="17.5" text-anchor="start" letter-spacing="0.8">70 F</text>
<rect x="180.4" y="1082.1" width="970.8" height="210.2" fill="#c0c0c0"/>
<path d="M180.4 1082.1H1151.2V1292.3" stroke="#808080" stroke-width="1.3" fill="none"/>
<path d="M180.4 1258H1151.2" stroke="#000" stroke-width="1.6"/>
<path d="M180.4 1225.2H1151.2" stroke="#000" stroke-width="1.6"/>
<path d="M180.4 1188.9H1151.2" stroke="#000" stroke-width="1.6"/>
<path d="M180.4 1154.2H1151.2" stroke="#000" stroke-width="1.6"/>
<path d="M180.4 1118.1H1151.2" stroke="#000" stroke-width="1.6"/>
<path d="M173.4 1292.3H180.4" stroke="#000" stroke-width="1.6"/>
<text transform="translate(162 1300.33) scale(0.83 1)" font-size="22.0" text-anchor="end">0.0</text>
<path d="M173.4 1258H180.4" stroke="#000" stroke-width="1.6"/>
<text transform="translate(162 1265.76) scale(0.83 1)" font-size="22.0" text-anchor="end">2.0</text>
<path d="M173.4 1225.2H180.4" stroke="#000" stroke-width="1.6"/>
<text transform="translate(162 1231.95) scale(0.83 1)" font-size="22.0" text-anchor="end">4.0</text>
<path d="M173.4 1188.9H180.4" stroke="#000" stroke-width="1.6"/>
<text transform="translate(162 1196.38) scale(0.83 1)" font-size="22.0" text-anchor="end">6.0</text>
<path d="M173.4 1154.2H180.4" stroke="#000" stroke-width="1.6"/>
<text transform="translate(162 1161.62) scale(0.83 1)" font-size="22.0" text-anchor="end">8.0</text>
<path d="M173.4 1118.1H180.4" stroke="#000" stroke-width="1.6"/>
<text transform="translate(162 1126.15) scale(0.83 1)" font-size="22.0" text-anchor="end">10.0</text>
<path d="M173.4 1082.1H180.4" stroke="#000" stroke-width="1.6"/>
<text transform="translate(162 1090.73) scale(0.83 1)" font-size="22.0" text-anchor="end">12.0</text>
<path d="M180.4 1292.3H1151.2" stroke="#000" stroke-width="1.6"/>
<path d="M72.6 1330.2H1151.2" stroke="#000" stroke-width="1.6"/>
<path d="M72.6 1368.1H1149.7" stroke="#000" stroke-width="1.6"/>
<path d="M72.6 1405.8H1149.7" stroke="#000" stroke-width="1.6"/>
<path d="M72.6 1440.6H1149.7" stroke="#000" stroke-width="1.6"/>
<path d="M72.6 1475.9H1151.2" stroke="#000" stroke-width="1.6"/>
<path d="M180.4 1082.1V1475.9" stroke="#000" stroke-width="1.6"/>
<path d="M240.1 1082.1V1475.9" stroke="#000" stroke-width="1.6"/>
<path d="M300.7 1082.1V1475.9" stroke="#000" stroke-width="1.6"/>
<path d="M361.3 1082.1V1475.9" stroke="#000" stroke-width="1.6"/>
<path d="M423.5 1082.1V1475.9" stroke="#000" stroke-width="1.6"/>
<path d="M482.8 1082.1V1475.9" stroke="#000" stroke-width="1.6"/>
<path d="M545 1082.1V1475.9" stroke="#000" stroke-width="1.6"/>
<path d="M604.1 1082.1V1475.9" stroke="#000" stroke-width="1.6"/>
<path d="M666.4 1082.1V1475.9" stroke="#000" stroke-width="1.6"/>
<path d="M725.7 1082.1V1475.9" stroke="#000" stroke-width="1.6"/>
<path d="M786.6 1082.1V1475.9" stroke="#000" stroke-width="1.6"/>
<path d="M848.9 1082.1V1475.9" stroke="#000" stroke-width="1.6"/>
<path d="M906.3 1082.1V1475.9" stroke="#000" stroke-width="1.6"/>
<path d="M968.3 1082.1V1475.9" stroke="#000" stroke-width="1.6"/>
<path d="M1029.4 1082.1V1475.9" stroke="#000" stroke-width="1.6"/>
<path d="M1091.9 1082.1V1475.9" stroke="#000" stroke-width="1.6"/>
<path d="M1151.2 1292.3V1475.9" stroke="#000" stroke-width="1.6"/>
<path d="M72.6 1330.2V1475.9" stroke="#000" stroke-width="1.6"/>
<text transform="translate(210.06 1317.99) scale(0.86 1)" font-size="22.5" text-anchor="middle" letter-spacing="0.5">100</text>
<text transform="translate(270.21 1317.99) scale(0.86 1)" font-size="22.5" text-anchor="middle" letter-spacing="0.5">105</text>
<text transform="translate(330.81 1317.99) scale(0.86 1)" font-size="22.5" text-anchor="middle" letter-spacing="0.5">110</text>
<text transform="translate(392.21 1317.99) scale(0.86 1)" font-size="22.5" text-anchor="middle" letter-spacing="0.5">115</text>
<text transform="translate(452.96 1317.99) scale(0.86 1)" font-size="22.5" text-anchor="middle" letter-spacing="0.5">120</text>
<text transform="translate(513.72 1317.99) scale(0.86 1)" font-size="22.5" text-anchor="middle" letter-spacing="0.5">125</text>
<text transform="translate(574.37 1317.99) scale(0.86 1)" font-size="22.5" text-anchor="middle" letter-spacing="0.5">130</text>
<text transform="translate(635.07 1317.99) scale(0.86 1)" font-size="22.5" text-anchor="middle" letter-spacing="0.5">135</text>
<text transform="translate(695.87 1317.99) scale(0.86 1)" font-size="22.5" text-anchor="middle" letter-spacing="0.5">140</text>
<text transform="translate(755.97 1317.99) scale(0.86 1)" font-size="22.5" text-anchor="middle" letter-spacing="0.5">150</text>
<text transform="translate(817.57 1317.99) scale(0.86 1)" font-size="22.5" text-anchor="middle" letter-spacing="0.5">160</text>
<text transform="translate(877.41 1317.99) scale(0.86 1)" font-size="22.5" text-anchor="middle" letter-spacing="0.5">165</text>
<text transform="translate(937.12 1317.99) scale(0.86 1)" font-size="22.5" text-anchor="middle" letter-spacing="0.5">170</text>
<text transform="translate(998.67 1317.99) scale(0.86 1)" font-size="22.5" text-anchor="middle" letter-spacing="0.5">175</text>
<text transform="translate(1060.46 1317.99) scale(0.86 1)" font-size="22.5" text-anchor="middle" letter-spacing="0.5">180</text>
<text transform="translate(1121.37 1317.99) scale(0.86 1)" font-size="22.5" text-anchor="middle" letter-spacing="0.5">185</text>
<text transform="translate(210.06 1359.19) scale(0.86 1)" font-size="22.5" text-anchor="middle" letter-spacing="0.5">5.4</text>
<text transform="translate(270.21 1359.19) scale(0.86 1)" font-size="22.5" text-anchor="middle" letter-spacing="0.5">5.0</text>
<text transform="translate(330.81 1359.19) scale(0.86 1)" font-size="22.5" text-anchor="middle" letter-spacing="0.5">4.7</text>
<text transform="translate(392.21 1359.19) scale(0.86 1)" font-size="22.5" text-anchor="middle" letter-spacing="0.5">4.3</text>
<text transform="translate(452.96 1359.19) scale(0.86 1)" font-size="22.5" text-anchor="middle" letter-spacing="0.5">4.1</text>
<text transform="translate(513.72 1359.19) scale(0.86 1)" font-size="22.5" text-anchor="middle" letter-spacing="0.5">3.8</text>
<text transform="translate(574.37 1359.19) scale(0.86 1)" font-size="22.5" text-anchor="middle" letter-spacing="0.5">3.6</text>
<text transform="translate(635.07 1359.19) scale(0.86 1)" font-size="22.5" text-anchor="middle" letter-spacing="0.5">3.4</text>
<text transform="translate(695.87 1359.19) scale(0.86 1)" font-size="22.5" text-anchor="middle" letter-spacing="0.5">3.3</text>
<text transform="translate(755.97 1359.19) scale(0.86 1)" font-size="22.5" text-anchor="middle" letter-spacing="0.5">3.0</text>
<text transform="translate(817.57 1359.19) scale(0.86 1)" font-size="22.5" text-anchor="middle" letter-spacing="0.5">2.7</text>
<text transform="translate(877.41 1359.19) scale(0.86 1)" font-size="22.5" text-anchor="middle" letter-spacing="0.5">2.6</text>
<text transform="translate(937.12 1359.19) scale(0.86 1)" font-size="22.5" text-anchor="middle" letter-spacing="0.5">2.5</text>
<text transform="translate(998.67 1359.19) scale(0.86 1)" font-size="22.5" text-anchor="middle" letter-spacing="0.5">2.4</text>
<text transform="translate(1060.46 1359.19) scale(0.86 1)" font-size="22.5" text-anchor="middle" letter-spacing="0.5">2.3</text>
<text transform="translate(1121.37 1359.19) scale(0.86 1)" font-size="22.5" text-anchor="middle" letter-spacing="0.5">2.2</text>
<path d="M78.5 1353.2H125.1" stroke="#000" stroke-width="1.3"/>
<path d="M101.7 1347.3L107.6 1353.2L101.7 1359.1L95.8 1353.2Z" fill="#000"/>
<text transform="translate(132.3 1358.63) scale(0.895 1)" font-size="21.5" text-anchor="start">40 F</text>
<text transform="translate(210.06 1395.59) scale(0.86 1)" font-size="22.5" text-anchor="middle" letter-spacing="0.5">6.5</text>
<text transform="translate(270.21 1395.59) scale(0.86 1)" font-size="22.5" text-anchor="middle" letter-spacing="0.5">5.9</text>
<text transform="translate(330.81 1395.59) scale(0.86 1)" font-size="22.5" text-anchor="middle" letter-spacing="0.5">5.4</text>
<text transform="translate(392.21 1395.59) scale(0.86 1)" font-size="22.5" text-anchor="middle" letter-spacing="0.5">5.0</text>
<text transform="translate(452.96 1395.59) scale(0.86 1)" font-size="22.5" text-anchor="middle" letter-spacing="0.5">4.7</text>
<text transform="translate(513.72 1395.59) scale(0.86 1)" font-size="22.5" text-anchor="middle" letter-spacing="0.5">4.3</text>
<text transform="translate(574.37 1395.59) scale(0.86 1)" font-size="22.5" text-anchor="middle" letter-spacing="0.5">4.1</text>
<text transform="translate(635.07 1395.59) scale(0.86 1)" font-size="22.5" text-anchor="middle" letter-spacing="0.5">3.8</text>
<text transform="translate(695.87 1395.59) scale(0.86 1)" font-size="22.5" text-anchor="middle" letter-spacing="0.5">3.6</text>
<text transform="translate(755.97 1395.59) scale(0.86 1)" font-size="22.5" text-anchor="middle" letter-spacing="0.5">3.3</text>
<text transform="translate(817.57 1395.59) scale(0.86 1)" font-size="22.5" text-anchor="middle" letter-spacing="0.5">3.0</text>
<text transform="translate(877.41 1395.59) scale(0.86 1)" font-size="22.5" text-anchor="middle" letter-spacing="0.5">2.8</text>
<text transform="translate(937.12 1395.59) scale(0.86 1)" font-size="22.5" text-anchor="middle" letter-spacing="0.5">2.7</text>
<text transform="translate(998.67 1395.59) scale(0.86 1)" font-size="22.5" text-anchor="middle" letter-spacing="0.5">2.6</text>
<text transform="translate(1060.46 1395.59) scale(0.86 1)" font-size="22.5" text-anchor="middle" letter-spacing="0.5">2.5</text>
<text transform="translate(1121.37 1395.59) scale(0.86 1)" font-size="22.5" text-anchor="middle" letter-spacing="0.5">2.4</text>
<path d="M78.5 1387.8H125.1" stroke="#000" stroke-width="1.3"/>
<rect x="94.6" y="1382.6" width="12.8" height="10.4" fill="#000"/>
<text transform="translate(132.3 1396.33) scale(0.895 1)" font-size="21.5" text-anchor="start">50 F</text>
<text transform="translate(210.06 1431.49) scale(0.86 1)" font-size="22.5" text-anchor="middle" letter-spacing="0.5">8.1</text>
<text transform="translate(270.21 1431.49) scale(0.86 1)" font-size="22.5" text-anchor="middle" letter-spacing="0.5">7.2</text>
<text transform="translate(330.81 1431.49) scale(0.86 1)" font-size="22.5" text-anchor="middle" letter-spacing="0.5">6.5</text>
<text transform="translate(392.21 1431.49) scale(0.86 1)" font-size="22.5" text-anchor="middle" letter-spacing="0.5">5.9</text>
<text transform="translate(452.96 1431.49) scale(0.86 1)" font-size="22.5" text-anchor="middle" letter-spacing="0.5">5.4</text>
<text transform="translate(513.72 1431.49) scale(0.86 1)" font-size="22.5" text-anchor="middle" letter-spacing="0.5">5.0</text>
<text transform="translate(574.37 1431.49) scale(0.86 1)" font-size="22.5" text-anchor="middle" letter-spacing="0.5">4.7</text>
<text transform="translate(635.07 1431.49) scale(0.86 1)" font-size="22.5" text-anchor="middle" letter-spacing="0.5">4.3</text>
<text transform="translate(695.87 1431.49) scale(0.86 1)" font-size="22.5" text-anchor="middle" letter-spacing="0.5">4.1</text>
<text transform="translate(755.97 1431.49) scale(0.86 1)" font-size="22.5" text-anchor="middle" letter-spacing="0.5">3.6</text>
<text transform="translate(817.57 1431.49) scale(0.86 1)" font-size="22.5" text-anchor="middle" letter-spacing="0.5">3.3</text>
<text transform="translate(877.41 1431.49) scale(0.86 1)" font-size="22.5" text-anchor="middle" letter-spacing="0.5">3.1</text>
<text transform="translate(937.12 1431.49) scale(0.86 1)" font-size="22.5" text-anchor="middle" letter-spacing="0.5">3.0</text>
<text transform="translate(998.67 1431.49) scale(0.86 1)" font-size="22.5" text-anchor="middle" letter-spacing="0.5">2.8</text>
<text transform="translate(1060.46 1431.49) scale(0.86 1)" font-size="22.5" text-anchor="middle" letter-spacing="0.5">2.7</text>
<text transform="translate(1121.37 1431.49) scale(0.86 1)" font-size="22.5" text-anchor="middle" letter-spacing="0.5">2.6</text>
<path d="M78.5 1425.6H125.1" stroke="#000" stroke-width="1.3"/>
<path d="M101.7 1419.5L108.4 1431.7L95 1431.7Z" fill="#000"/>
<text transform="translate(132.3 1432.33) scale(0.895 1)" font-size="21.5" text-anchor="start">60 F</text>
<text transform="translate(210.06 1467.69) scale(0.86 1)" font-size="22.5" text-anchor="middle" letter-spacing="0.5">10.0</text>
<text transform="translate(270.21 1467.69) scale(0.86 1)" font-size="22.5" text-anchor="middle" letter-spacing="0.5">9.3</text>
<text transform="translate(330.81 1467.69) scale(0.86 1)" font-size="22.5" text-anchor="middle" letter-spacing="0.5">8.1</text>
<text transform="translate(392.21 1467.69) scale(0.86 1)" font-size="22.5" text-anchor="middle" letter-spacing="0.5">7.2</text>
<text transform="translate(452.96 1467.69) scale(0.86 1)" font-size="22.5" text-anchor="middle" letter-spacing="0.5">6.5</text>
<text transform="translate(513.72 1467.69) scale(0.86 1)" font-size="22.5" text-anchor="middle" letter-spacing="0.5">5.9</text>
<text transform="translate(574.37 1467.69) scale(0.86 1)" font-size="22.5" text-anchor="middle" letter-spacing="0.5">5.4</text>
<text transform="translate(635.07 1467.69) scale(0.86 1)" font-size="22.5" text-anchor="middle" letter-spacing="0.5">5.0</text>
<text transform="translate(695.87 1467.69) scale(0.86 1)" font-size="22.5" text-anchor="middle" letter-spacing="0.5">4.7</text>
<text transform="translate(755.97 1467.69) scale(0.86 1)" font-size="22.5" text-anchor="middle" letter-spacing="0.5">4.1</text>
<text transform="translate(817.57 1467.69) scale(0.86 1)" font-size="22.5" text-anchor="middle" letter-spacing="0.5">3.6</text>
<text transform="translate(877.41 1467.69) scale(0.86 1)" font-size="22.5" text-anchor="middle" letter-spacing="0.5">3.4</text>
<text transform="translate(937.12 1467.69) scale(0.86 1)" font-size="22.5" text-anchor="middle" letter-spacing="0.5">3.3</text>
<text transform="translate(998.67 1467.69) scale(0.86 1)" font-size="22.5" text-anchor="middle" letter-spacing="0.5">3.1</text>
<text transform="translate(1060.46 1467.69) scale(0.86 1)" font-size="22.5" text-anchor="middle" letter-spacing="0.5">3.0</text>
<text transform="translate(1121.37 1467.69) scale(0.86 1)" font-size="22.5" text-anchor="middle" letter-spacing="0.5">2.8</text>
<path d="M78.5 1461.9H125.1" stroke="#000" stroke-width="1.3"/>
<path d="M96.5 1456.9L106.9 1466.9M106.9 1456.9L96.5 1466.9" stroke="#000" stroke-width="1.1" fill="none"/>
<text transform="translate(132.3 1468.23) scale(0.895 1)" font-size="21.5" text-anchor="start">70 F</text>
<polyline points="210.95,1197.89 271.54,1204.86 332.13,1210.08 392.72,1217.05 453.31,1220.53 513.9,1225.76 574.49,1229.24 635.08,1232.73 695.67,1234.47 756.26,1239.69 816.85,1244.92 877.44,1246.66 938.03,1248.4 998.62,1250.14 1059.21,1251.88 1119.8,1253.62" stroke="#000" stroke-width="1.3" fill="none"/>
<polyline points="210.95,1178.74 271.54,1189.19 332.13,1197.89 392.72,1204.86 453.31,1210.08 513.9,1217.05 574.49,1220.53 635.08,1225.76 695.67,1229.24 756.26,1234.47 816.85,1239.69 877.44,1243.18 938.03,1244.92 998.62,1246.66 1059.21,1248.4 1119.8,1250.14" stroke="#000" stroke-width="1.3" fill="none"/>
<polyline points="210.95,1150.87 271.54,1166.54 332.13,1178.74 392.72,1189.19 453.31,1197.89 513.9,1204.86 574.49,1210.08 635.08,1217.05 695.67,1220.53 756.26,1229.24 816.85,1234.47 877.44,1237.95 938.03,1239.69 998.62,1243.18 1059.21,1244.92 1119.8,1246.66" stroke="#000" stroke-width="1.3" fill="none"/>
<polyline points="210.95,1117.78 271.54,1129.97 332.13,1150.87 392.72,1166.54 453.31,1178.74 513.9,1189.19 574.49,1197.89 635.08,1204.86 695.67,1210.08 756.26,1220.53 816.85,1229.24 877.44,1232.73 938.03,1234.47 998.62,1237.95 1059.21,1239.69 1119.8,1243.18" stroke="#000" stroke-width="1.3" fill="none"/>
<path d="M210.95 1190.29L218.35 1197.89L210.95 1205.49L203.55 1197.89Z" fill="#000"/>
<path d="M271.54 1197.26L278.94 1204.86L271.54 1212.46L264.14 1204.86Z" fill="#000"/>
<path d="M332.13 1202.48L339.53 1210.08L332.13 1217.68L324.73 1210.08Z" fill="#000"/>
<path d="M392.72 1209.45L400.12 1217.05L392.72 1224.65L385.32 1217.05Z" fill="#000"/>
<path d="M453.31 1212.93L460.71 1220.53L453.31 1228.13L445.91 1220.53Z" fill="#000"/>
<path d="M513.9 1218.16L521.3 1225.76L513.9 1233.36L506.5 1225.76Z" fill="#000"/>
<path d="M574.49 1221.64L581.89 1229.24L574.49 1236.84L567.09 1229.24Z" fill="#000"/>
<path d="M635.08 1225.13L642.48 1232.73L635.08 1240.33L627.68 1232.73Z" fill="#000"/>
<path d="M695.67 1226.87L703.07 1234.47L695.67 1242.07L688.27 1234.47Z" fill="#000"/>
<path d="M756.26 1232.09L763.66 1239.69L756.26 1247.29L748.86 1239.69Z" fill="#000"/>
<path d="M816.85 1237.32L824.25 1244.92L816.85 1252.52L809.45 1244.92Z" fill="#000"/>
<path d="M877.44 1239.06L884.84 1246.66L877.44 1254.26L870.04 1246.66Z" fill="#000"/>
<path d="M938.03 1240.8L945.43 1248.4L938.03 1256L930.63 1248.4Z" fill="#000"/>
<path d="M998.62 1242.54L1006.02 1250.14L998.62 1257.74L991.22 1250.14Z" fill="#000"/>
<path d="M1059.21 1244.28L1066.61 1251.88L1059.21 1259.48L1051.81 1251.88Z" fill="#000"/>
<path d="M1119.8 1246.02L1127.2 1253.62L1119.8 1261.22L1112.4 1253.62Z" fill="#000"/>
<rect x="203.35" y="1171.94" width="13.8" height="13.6" fill="#000"/>
<rect x="263.94" y="1182.39" width="13.8" height="13.6" fill="#000"/>
<rect x="324.53" y="1191.09" width="13.8" height="13.6" fill="#000"/>
<rect x="385.12" y="1198.06" width="13.8" height="13.6" fill="#000"/>
<rect x="445.71" y="1203.28" width="13.8" height="13.6" fill="#000"/>
<rect x="506.3" y="1210.25" width="13.8" height="13.6" fill="#000"/>
<rect x="566.89" y="1213.73" width="13.8" height="13.6" fill="#000"/>
<rect x="627.48" y="1218.96" width="13.8" height="13.6" fill="#000"/>
<rect x="688.07" y="1222.44" width="13.8" height="13.6" fill="#000"/>
<rect x="748.66" y="1227.67" width="13.8" height="13.6" fill="#000"/>
<rect x="809.25" y="1232.89" width="13.8" height="13.6" fill="#000"/>
<rect x="869.84" y="1236.38" width="13.8" height="13.6" fill="#000"/>
<rect x="930.43" y="1238.12" width="13.8" height="13.6" fill="#000"/>
<rect x="991.02" y="1239.86" width="13.8" height="13.6" fill="#000"/>
<rect x="1051.61" y="1241.6" width="13.8" height="13.6" fill="#000"/>
<rect x="1112.2" y="1243.34" width="13.8" height="13.6" fill="#000"/>
<path d="M210.95 1141.47L221.05 1160.27L200.85 1160.27Z" fill="#000"/>
<path d="M271.54 1157.14L281.64 1175.94L261.44 1175.94Z" fill="#000"/>
<path d="M332.13 1169.34L342.23 1188.14L322.03 1188.14Z" fill="#000"/>
<path d="M392.72 1179.79L402.82 1198.59L382.62 1198.59Z" fill="#000"/>
<path d="M453.31 1188.49L463.41 1207.29L443.21 1207.29Z" fill="#000"/>
<path d="M513.9 1195.46L524 1214.26L503.8 1214.26Z" fill="#000"/>
<path d="M574.49 1200.68L584.59 1219.48L564.39 1219.48Z" fill="#000"/>
<path d="M635.08 1207.65L645.18 1226.45L624.98 1226.45Z" fill="#000"/>
<path d="M695.67 1211.13L705.77 1229.93L685.57 1229.93Z" fill="#000"/>
<path d="M756.26 1219.84L766.36 1238.64L746.16 1238.64Z" fill="#000"/>
<path d="M816.85 1225.07L826.95 1243.87L806.75 1243.87Z" fill="#000"/>
<path d="M877.44 1228.55L887.54 1247.35L867.34 1247.35Z" fill="#000"/>
<path d="M938.03 1230.29L948.13 1249.09L927.93 1249.09Z" fill="#000"/>
<path d="M998.62 1233.78L1008.72 1252.58L988.52 1252.58Z" fill="#000"/>
<path d="M1059.21 1235.52L1069.31 1254.32L1049.11 1254.32Z" fill="#000"/>
<path d="M1119.8 1237.26L1129.9 1256.06L1109.7 1256.06Z" fill="#000"/>
<path d="M204.95 1111.38L216.95 1124.18M216.95 1111.38L204.95 1124.18" stroke="#000" stroke-width="1.1" fill="none"/>
<path d="M265.54 1123.57L277.54 1136.37M277.54 1123.57L265.54 1136.37" stroke="#000" stroke-width="1.1" fill="none"/>
<path d="M326.13 1144.47L338.13 1157.27M338.13 1144.47L326.13 1157.27" stroke="#000" stroke-width="1.1" fill="none"/>
<path d="M386.72 1160.14L398.72 1172.94M398.72 1160.14L386.72 1172.94" stroke="#000" stroke-width="1.1" fill="none"/>
<path d="M447.31 1172.34L459.31 1185.14M459.31 1172.34L447.31 1185.14" stroke="#000" stroke-width="1.1" fill="none"/>
<path d="M507.9 1182.79L519.9 1195.59M519.9 1182.79L507.9 1195.59" stroke="#000" stroke-width="1.1" fill="none"/>
<path d="M568.49 1191.49L580.49 1204.29M580.49 1191.49L568.49 1204.29" stroke="#000" stroke-width="1.1" fill="none"/>
<path d="M629.08 1198.46L641.08 1211.26M641.08 1198.46L629.08 1211.26" stroke="#000" stroke-width="1.1" fill="none"/>
<path d="M689.67 1203.68L701.67 1216.48M701.67 1203.68L689.67 1216.48" stroke="#000" stroke-width="1.1" fill="none"/>
<path d="M750.26 1214.13L762.26 1226.93M762.26 1214.13L750.26 1226.93" stroke="#000" stroke-width="1.1" fill="none"/>
<path d="M810.85 1222.84L822.85 1235.64M822.85 1222.84L810.85 1235.64" stroke="#000" stroke-width="1.1" fill="none"/>
<path d="M871.44 1226.33L883.44 1239.13M883.44 1226.33L871.44 1239.13" stroke="#000" stroke-width="1.1" fill="none"/>
<path d="M932.03 1228.07L944.03 1240.87M944.03 1228.07L932.03 1240.87" stroke="#000" stroke-width="1.1" fill="none"/>
<path d="M992.62 1231.55L1004.62 1244.35M1004.62 1231.55L992.62 1244.35" stroke="#000" stroke-width="1.1" fill="none"/>
<path d="M1053.21 1233.29L1065.21 1246.09M1065.21 1233.29L1053.21 1246.09" stroke="#000" stroke-width="1.1" fill="none"/>
<path d="M1113.8 1236.78L1125.8 1249.58M1125.8 1236.78L1113.8 1249.58" stroke="#000" stroke-width="1.1" fill="none"/>
<rect x="684.7" y="1093.7" width="432.7" height="35.5" fill="#fff" stroke="#000" stroke-width="1.4"/>
<path d="M693.9 1109.4H739.9" stroke="#000" stroke-width="1.3"/>
<path d="M716.9 1103.8L721.7 1110L716.9 1116.2L712.1 1110Z" fill="#000"/>
<text transform="translate(747 1113.92) scale(0.95 1)" font-size="17.5" text-anchor="start" letter-spacing="1.3">40 F</text>
<path d="M803.8 1109.4H849.8" stroke="#000" stroke-width="1.3"/>
<rect x="820" y="1104.8" width="12.2" height="10.4" fill="#000"/>
<text transform="translate(856 1113.92) scale(0.95 1)" font-size="17.5" text-anchor="start" letter-spacing="1.3">50 F</text>
<path d="M912.2 1109.4H958.2" stroke="#000" stroke-width="1.3"/>
<path d="M935.2 1104.2L941.6 1115.8L928.8 1115.8Z" fill="#000"/>
<text transform="translate(964.8 1113.92) scale(0.95 1)" font-size="17.5" text-anchor="start" letter-spacing="1.3">60 F</text>
<path d="M1022.5 1109.4H1068.5" stroke="#000" stroke-width="1.3"/>
<path d="M1039.9 1105.1L1051.1 1114.9M1051.1 1105.1L1039.9 1114.9" stroke="#000" stroke-width="1.1" fill="none"/>
<text transform="translate(1075 1113.92) scale(0.95 1)" font-size="17.5" text-anchor="start" letter-spacing="1.3">70 F</text>
<path d="M127 1575.3H268.8" stroke="#161690" stroke-width="1.4"/>
</svg>
</body></html>
